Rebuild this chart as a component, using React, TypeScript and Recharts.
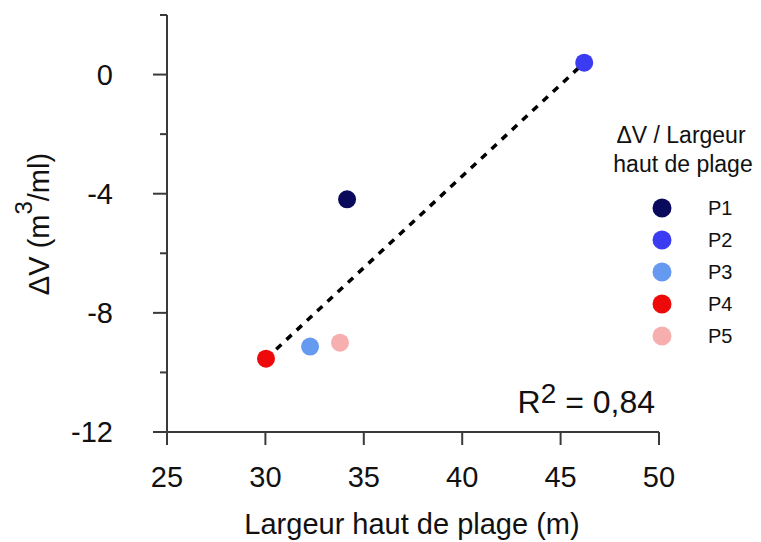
import { ScatterChart, Scatter, XAxis, YAxis, Label, Customized } from 'recharts';

// profils P1..P5 : largeur haut de plage (m) / variation de volume (m3/ml)
const names = ['P1', 'P2', 'P3', 'P4', 'P5'];
const colors = ['#0a0a5c', '#3b3bf2', '#6699f0', '#ee0a0a', '#f7aeae'];
const largeur = [34.15, 46.2, 32.27, 30.03, 33.79];
const deltaV = [-4.19, 0.4, -9.13, -9.54, -9.0];

// droite de régression (tracée entre P4 et P2)
const fitX = [30.03, 46.2];
const fitY = [-9.54, 0.4];

const xTicks = [25, 30, 35, 40, 45, 50];
const yTicks = [-12, -10, -8, -6, -4, -2, 0, 2];
const yLabelled = [-12, -8, -4, 0];
const r2 = '0,84';

const FONT = '"Liberation Sans", Arial, sans-serif';
const AXIS = '#3a3a3a';

const points = names.map((n, i) => ({ name: n, x: largeur[i], y: deltaV[i] }));
const fitData = fitX.map((x, i) => ({ x, y: fitY[i] }));

const YTick = (props: any) => {
  const { x, y, payload } = props;
  const major = yLabelled.includes(payload.value);
  return (
    <g>
      <line x1={x - (major ? 14 : 7)} y1={y} x2={x} y2={y} stroke={AXIS} strokeWidth={2} />
      {major && (
        <text x={x - 54} y={y + 10} textAnchor="end" fontSize={29} fontFamily={FONT} fill="#111">
          {payload.value}
        </text>
      )}
    </g>
  );
};

const XTick = (props: any) => {
  const { x, y, payload } = props;
  return (
    <g>
      <line x1={x} y1={y} x2={x} y2={y + 13} stroke={AXIS} strokeWidth={2} />
      <text x={x} y={y + 55} textAnchor="middle" fontSize={29} fontFamily={FONT} fill="#111">
        {payload.value}
      </text>
    </g>
  );
};

const Dot = (color: string) => (props: any) =>
  <circle cx={props.cx} cy={props.cy} r={9} fill={color} />;

const Extras = () => (
  <g fontFamily={FONT} fill="#111">
    <text x={681} y={143} textAnchor="middle" fontSize={23}>ΔV / Largeur</text>
    <text x={683} y={172} textAnchor="middle" fontSize={23}>haut de plage</text>
    {names.map((n, i) => (
      <g key={n}>
        <circle cx={662} cy={208 + i * 32} r={9.5} fill={colors[i]} />
        <text x={708} y={215 + i * 32} fontSize={20}>{n}</text>
      </g>
    ))}
    <text x={655} y={413} textAnchor="end" fontSize={32}>
      <tspan>R</tspan>
      <tspan dy={-10} fontSize={28}>2</tspan>
      <tspan dy={10}>{` = ${r2}`}</tspan>
    </text>
  </g>
);

export default function App() {
  return (
    <div>
      <style>{'body{margin:0}'}</style>
      <ScatterChart width={761} height={542} margin={{ top: 15, right: 102, bottom: 0, left: 0 }}>
        <XAxis
          type="number"
          dataKey="x"
          domain={[25, 50]}
          ticks={xTicks}
          height={110}
          tickSize={0}
          tickMargin={0}
          tickLine={false}
          axisLine={{ stroke: AXIS, strokeWidth: 2 }}
          tick={<XTick />}
          allowDataOverflow
        >
          <Label
            content={() => (
              <text x={412} y={534} textAnchor="middle" fontSize={29} fontFamily={FONT} fill="#111">
                Largeur haut de plage (m)
              </text>
            )}
          />
        </XAxis>
        <YAxis
          type="number"
          dataKey="y"
          domain={[-12, 2]}
          ticks={yTicks}
          width={167}
          tickSize={0}
          tickMargin={0}
          tickLine={false}
          axisLine={{ stroke: AXIS, strokeWidth: 2 }}
          tick={<YTick />}
          allowDataOverflow
        >
          <Label
            content={() => (
              <text
                x={49}
                y={224}
                transform="rotate(-90 49 224)"
                textAnchor="middle"
                fontSize={29}
                fontFamily={FONT}
                fill="#111"
              >
                <tspan>ΔV (m</tspan>
                <tspan dy={-17} fontSize={24}>3</tspan>
                <tspan dy={17}>/ml)</tspan>
              </text>
            )}
          />
        </YAxis>
        <Scatter
          data={fitData}
          line={{ stroke: '#000', strokeWidth: 3.5, strokeDasharray: '7 7' }}
          shape={() => <g />}
          isAnimationActive={false}
        />
        {points.map((p, i) => (
          <Scatter key={p.name} name={p.name} data={[p]} shape={Dot(colors[i])} isAnimationActive={false} />
        ))}
        <Customized component={Extras} />
      </ScatterChart>
    </div>
  );
}
